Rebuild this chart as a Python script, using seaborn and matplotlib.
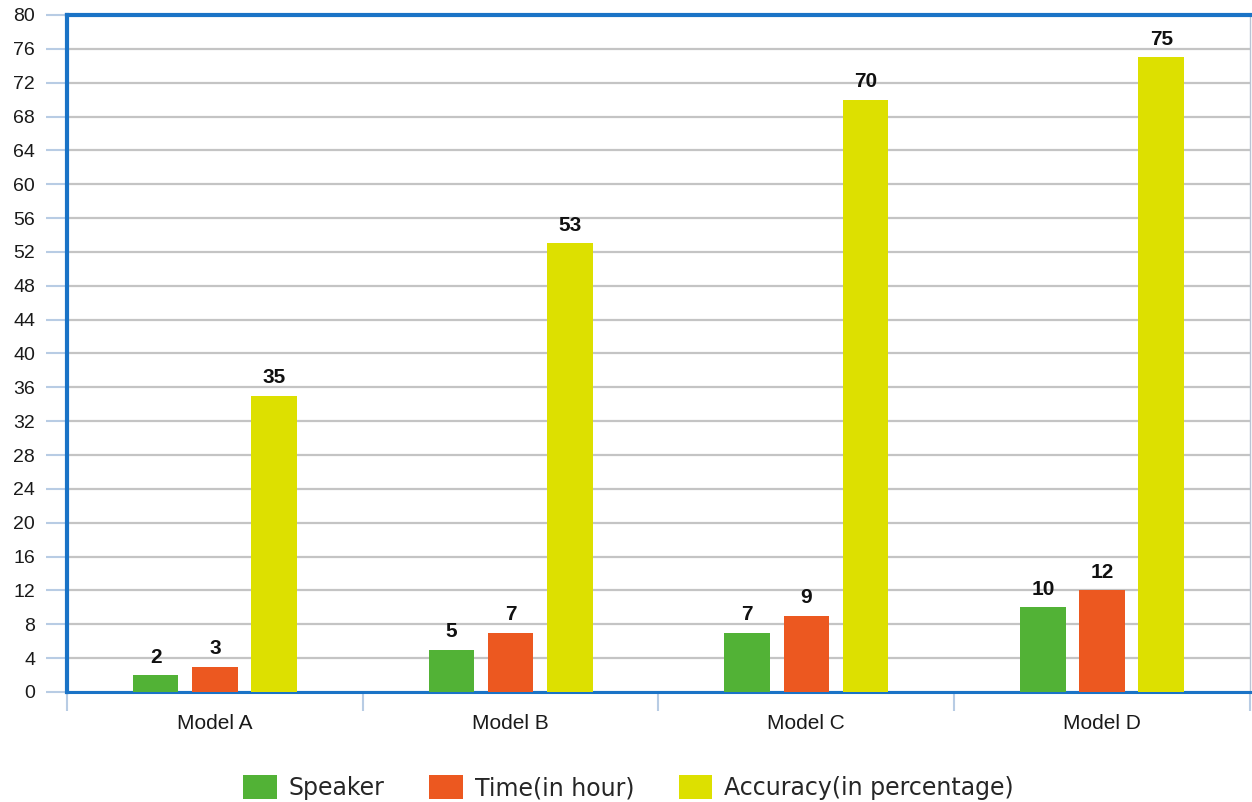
import matplotlib
matplotlib.use("Agg")
import matplotlib.pyplot as plt
import seaborn as sns
import pandas as pd
from matplotlib.patches import Patch

models = ["Model A", "Model B", "Model C", "Model D"]
series = ["Speaker", "Time(in hour)", "Accuracy(in percentage)"]
speaker = [2, 5, 7, 10]
time_hours = [3, 7, 9, 12]
accuracy = [35, 53, 70, 75]
y_ticks = list(range(0, 81, 4))

colors = ["#52B236", "#EC5820", "#DDE000"]

df = pd.DataFrame({
    "model": models * 3,
    "series": [series[0]] * 4 + [series[1]] * 4 + [series[2]] * 4,
    "value": speaker + time_hours + accuracy,
})

sns.set_theme(style="white")
plt.rcParams["font.family"] = ["Liberation Sans", "DejaVu Sans"]

fig = plt.figure(figsize=(12.52, 8.02), dpi=100)
ax = fig.add_axes([0.0535, 0.1372, 0.9449, 0.8441])

sns.barplot(data=df, x="model", y="value", hue="series", order=models,
            hue_order=series, palette=colors, width=0.6, gap=0.23,
            saturation=1, legend=False, ax=ax, zorder=3, linewidth=0)

for cont in ax.containers:
    ax.bar_label(cont, padding=6, fontsize=15, fontweight="bold", color="#111111")

ax.set_ylim(0, 80)
ax.set_xlim(-0.5, 3.5)
ax.set_yticks(y_ticks)
ax.yaxis.grid(True, color="#c4c4c4", linewidth=1.6, zorder=0)
ax.set_axisbelow(True)
ax.set_xlabel("")
ax.set_ylabel("")

ax.tick_params(axis="y", which="major", length=15, width=1.5, color="#b8cce4",
               labelsize=14, labelcolor="#1a1a1a", pad=8, left=True)
ax.tick_params(axis="x", which="major", length=0, labelsize=15,
               labelcolor="#1a1a1a", pad=16)
ax.set_xticks([-0.5, 0.5, 1.5, 2.5, 3.5], minor=True)
ax.tick_params(axis="x", which="minor", length=14, width=1.5, color="#b8cce4",
               bottom=True)

for side in ["left", "top"]:
    ax.spines[side].set_color("#1a73c6")
    ax.spines[side].set_linewidth(3)
ax.spines["bottom"].set_color("#1a73c6")
ax.spines["bottom"].set_linewidth(2.2)
ax.spines["right"].set_color("#b8c4d4")
ax.spines["right"].set_linewidth(1)

handles = [Patch(facecolor=c, edgecolor="none") for c in colors]
fig.legend(handles, series, loc="center", bbox_to_anchor=(0.502, 0.018),
           ncol=3, frameon=False, handlelength=1.42, handleheight=1.2,
           handletextpad=0.5, columnspacing=1.9,
           prop={"family": "DejaVu Sans", "size": 17})

fig.savefig("out.png", dpi=100)
